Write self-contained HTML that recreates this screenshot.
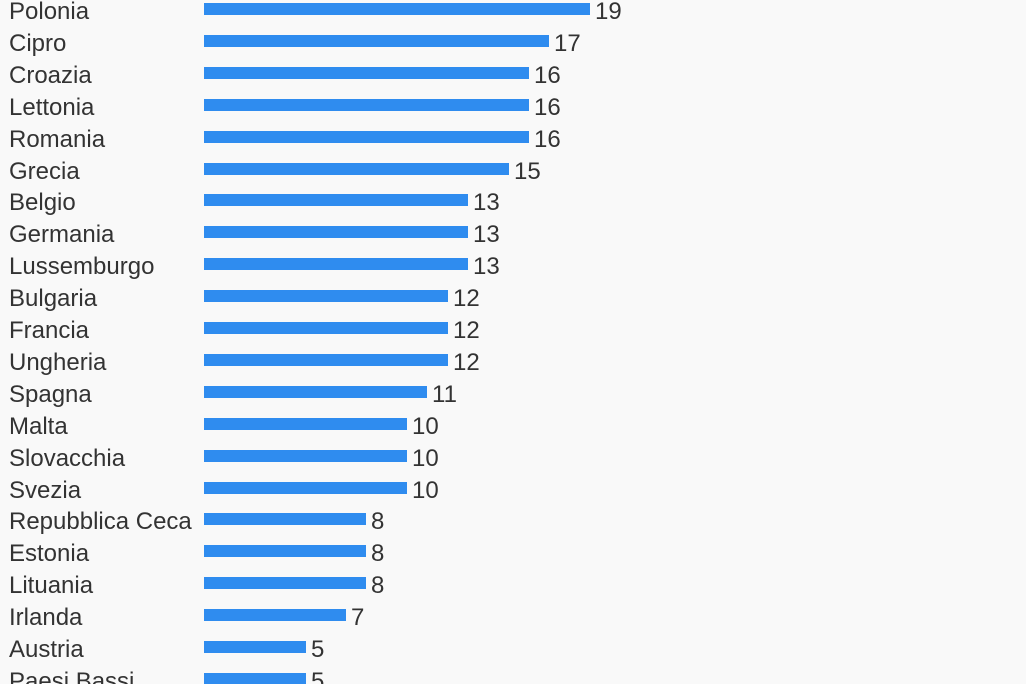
<!DOCTYPE html>
<html><head><meta charset="utf-8"><style>
html{overflow:hidden}
body{margin:0;width:1026px;height:684px;overflow:hidden;background:#f9f9f9;font-family:"Liberation Sans",sans-serif;color:#333;position:relative}
.r{position:absolute;left:0;height:32px;width:1026px}
.l{position:absolute;left:9px;top:-4px;font-size:24px;line-height:32px;white-space:nowrap}
.b{position:absolute;left:204px;top:3px;height:12px;background:#2f8cef}
.v{position:absolute;top:-4px;font-size:24px;line-height:32px}
</style></head><body>
<script>
const d=[["Polonia",19],["Cipro",17],["Croazia",16],["Lettonia",16],["Romania",16],["Grecia",15],["Belgio",13],["Germania",13],["Lussemburgo",13],["Bulgaria",12],["Francia",12],["Ungheria",12],["Spagna",11],["Malta",10],["Slovacchia",10],["Svezia",10],["Repubblica Ceca",8],["Estonia",8],["Lituania",8],["Irlanda",7],["Austria",5],["Paesi Bassi",5]];
let h="";d.forEach((e,i)=>{const w=Math.round(e[1]*20.3);h+=`<div class="r" style="top:${i*31.9}px"><div class="l">${e[0]}</div><div class="b" style="width:${w}px"></div><div class="v" style="left:${204+w+5}px">${e[1]}</div></div>`});document.write(h);
</script>
</body></html>
